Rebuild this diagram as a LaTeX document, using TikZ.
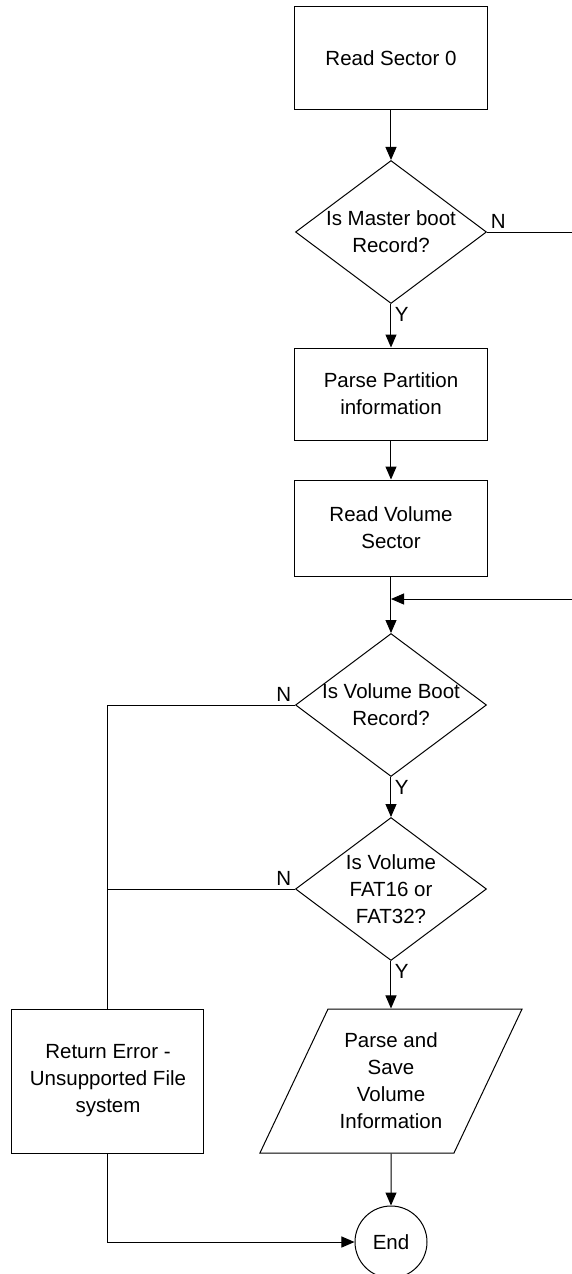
\documentclass[tikz,border=0pt]{standalone}
\usepackage{fontspec}
\setmainfont{Liberation Sans}
\usetikzlibrary{shapes.geometric, arrows.meta, positioning}

\begin{document}
\begin{tikzpicture}[node distance=2cm, on grid, line width=1pt,
    >={Triangle[length=13pt,width=11pt]},
    every node/.style={font=\fontsize{20.5}{27}\selectfont},
    block/.style={draw, rectangle, align=center, minimum width=192pt, inner sep=0pt},
    decision/.style={draw, diamond, aspect=1.336, align=center, minimum width=191pt, minimum height=143pt, inner sep=-4pt},
    io/.style={draw, trapezium, trapezium left angle=60, trapezium right angle=120,
      trapezium stretches=true, align=center, minimum width=263pt, minimum height=144pt, inner sep=0pt},
    term/.style={draw, circle, minimum size=72pt, inner sep=0pt}]
  \useasboundingbox (-391pt,58pt) rectangle (181pt,-1216pt);

  \node[block, minimum height=102pt] (sec0) at (0,0) {Read Sector 0};
  \node[decision, below=174pt of sec0] (mbr) {Is Master boot\\Record?};
  \node[block, minimum height=92pt, below=162pt of mbr] (part) {Parse Partition\\information};
  \node[block, minimum height=96pt, below=134pt of part] (vol) {Read Volume\\Sector};
  \coordinate[below=71pt of vol] (join);
  \node[decision, below=177pt of vol] (vbr) {Is Volume Boot\\Record?};
  \node[decision, below=184pt of vbr] (fat) {Is Volume\\FAT16 or\\FAT32?};
  \node[io, below=192pt of fat] (info) {Parse and\\Save\\Volume\\Information};
  \node[term, below=161pt of info] (end) {End};
  \node[block, minimum height=144pt, left=283pt of info] (err) {Return Error -\\Unsupported File\\system};
  \coordinate[right=181pt of mbr] (mbrout);
  \coordinate[right=181pt of join] (volin);

  % Y / N labels
  \node[above right] (n1) at (mbr.east) {N};
  \node[below right] (y1) at (mbr.south) {Y};
  \node[above left] (n2) at (vbr.west) {N};
  \node[below right] (y2) at (vbr.south) {Y};
  \node[above left] (n3) at (fat.west) {N};
  \node[below right] (y3) at (fat.south) {Y};

  \draw[->] (sec0) -- (mbr);
  \draw[->] (mbr) -- (part);
  \draw (mbr.east) -- (mbrout);
  \draw[->] (part) -- (vol);
  \draw (vol) -- (join);
  \draw[->] (volin) -- (join);
  \draw[->] (join) -- (vbr);
  \draw[->] (vbr) -- (fat);
  \draw (vbr.west) -| (err.north);
  \draw (fat.west) -- (fat.west -| err.north);
  \draw[->] (fat) -- (info);
  \draw[->] (info) -- (end);
  \draw[->] (err.south) |- (end.west);
\end{tikzpicture}
\end{document}
